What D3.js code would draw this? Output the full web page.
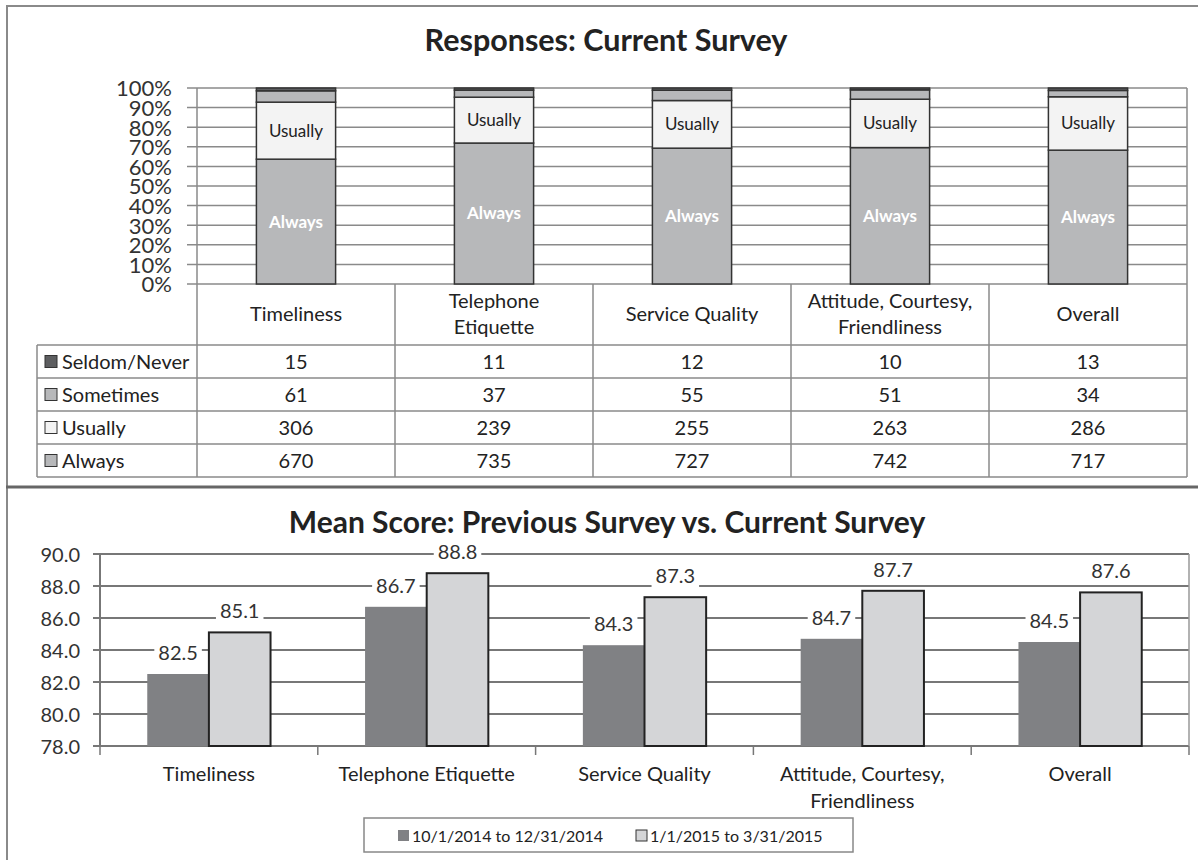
<!DOCTYPE html>
<html>
<head>
    <title>survey charts</title>
    <script type="text/javascript" src="https://cdn.jsdelivr.net/npm/d3@7/dist/d3.min.js"></script>
    <style type="text/css">
        body {
            margin: 0;
            background-color: #fff;
        }
        svg text {
            font-family: Lato, "Open Sans", sans-serif;
            fill: #222;
        }
        .grid line {
            stroke: #8a8a8a;
            stroke-width: 1.5px;
        }
        .frame {
            stroke: #8a8a8a;
            stroke-width: 2px;
        }
    </style>
</head>

<body>
    <svg id="chart" width="1198" height="860"></svg>
</body>

<script type="text/javascript">
    // categories and tick labels
    const categories = ["Timeliness", "Telephone Etiquette", "Service Quality", "Attitude, Courtesy, Friendliness", "Overall"];
    const tableHeaders = [["Timeliness"], ["Telephone", "Etiquette"], ["Service Quality"], ["Attitude, Courtesy,", "Friendliness"], ["Overall"]];
    const axisLabels = [["Timeliness"], ["Telephone Etiquette"], ["Service Quality"], ["Attitude, Courtesy,", "Friendliness"], ["Overall"]];
    const pctTicks = [0, 10, 20, 30, 40, 50, 60, 70, 80, 90, 100];
    const meanTicks = [78, 80, 82, 84, 86, 88, 90];

    // responses, current survey
    const levels = ["Seldom/Never", "Sometimes", "Usually", "Always"];
    const seldomNever = [15, 11, 12, 10, 13];
    const sometimes = [61, 37, 55, 51, 34];
    const usually = [306, 239, 255, 263, 286];
    const always = [670, 735, 727, 742, 717];

    // mean scores
    const seriesNames = ["10/1/2014 to 12/31/2014", "1/1/2015 to 3/31/2015"];
    const previousMean = [82.5, 86.7, 84.3, 84.7, 84.5];
    const currentMean = [85.1, 88.8, 87.3, 87.7, 87.6];

    const levelColor = {"Seldom/Never": "#5d5e60", "Sometimes": "#b7b8ba", "Usually": "#f3f3f3", "Always": "#b7b8ba"};
    const seriesColor = ["#808184", "#d4d5d7"];

    let svg = d3.select("#chart");

    // panel frame
    svg.append("line").attr("class", "frame").attr("x1", 6).attr("x2", 1198).attr("y1", 6).attr("y2", 6);
    svg.append("line").attr("class", "frame").attr("x1", 7).attr("x2", 7).attr("y1", 6).attr("y2", 860);
    svg.append("line").attr("class", "frame").attr("x1", 6).attr("x2", 1198).attr("y1", 487).attr("y2", 487)
       .style("stroke", "#666").style("stroke-width", "3px");

    // ---------- top chart ----------
    const tc = {left: 197, right: 1187, y0: 284, y1: 88};
    let x1 = d3.scaleBand().domain(categories).range([tc.left, tc.right]);
    let y1 = d3.scaleLinear().domain([0, 100]).range([tc.y0, tc.y1]);

    svg.append("text").attr("x", 606).attr("y", 51).attr("text-anchor", "middle")
       .style("font-size", "30.5px").style("font-weight", "bold").text("Responses: Current Survey");

    let grid1 = svg.append("g").attr("class", "grid");
    grid1.selectAll("line").data(pctTicks).enter().append("line")
        .attr("x1", tc.left - 10).attr("x2", tc.right)
        .attr("y1", d => y1(d)).attr("y2", d => y1(d));

    let yAxis1 = svg.append("g").attr("transform", "translate(" + tc.left + ",0)")
        .call(d3.axisLeft(y1).tickValues(pctTicks).tickFormat(d => d + "%").tickSize(10));
    yAxis1.select(".domain").remove();
    yAxis1.selectAll("line").remove();
    yAxis1.selectAll("text").attr("x", -25).attr("dy", "0.36em")
        .style("font-size", "22px").style("font-family", "Lato, sans-serif").style("fill", "#333");

    let rows = categories.map((c, i) => {
        let total = seldomNever[i] + sometimes[i] + usually[i] + always[i];
        return {
            cat: c,
            "Always": always[i] / total * 100,
            "Usually": usually[i] / total * 100,
            "Sometimes": sometimes[i] / total * 100,
            "Seldom/Never": seldomNever[i] / total * 100
        };
    });
    let stack = d3.stack().keys(["Always", "Usually", "Sometimes", "Seldom/Never"])(rows);
    let barW1 = x1.bandwidth() * 0.4;

    let layers = svg.append("g").selectAll("g").data(stack).enter().append("g")
        .attr("fill", d => levelColor[d.key]);
    layers.selectAll("rect").data(d => d).enter().append("rect")
        .attr("x", d => x1(d.data.cat) + (x1.bandwidth() - barW1) / 2)
        .attr("width", barW1)
        .attr("y", d => y1(d[1]))
        .attr("height", d => y1(d[0]) - y1(d[1]))
        .attr("stroke", "#333").attr("stroke-width", 1.5);

    layers.filter(d => d.key == "Always" || d.key == "Usually")
        .selectAll("text").data(d => d.map(v => ({v: v, key: d.key}))).enter().append("text")
        .attr("x", d => x1(d.v.data.cat) + x1.bandwidth() / 2)
        .attr("y", d => (y1(d.v[0]) + y1(d.v[1])) / 2)
        .attr("dy", "0.35em").attr("text-anchor", "middle")
        .style("font-size", "17px")
        .style("font-weight", d => d.key == "Always" ? "bold" : "normal")
        .style("fill", d => d.key == "Always" ? "#fff" : "#222")
        .text(d => d.key);

    // plot sides
    svg.append("line").attr("class", "frame").attr("x1", tc.left).attr("x2", tc.left).attr("y1", tc.y1).attr("y2", 477).style("stroke-width", "1.5px");
    svg.append("line").attr("class", "frame").attr("x1", tc.right).attr("x2", tc.right).attr("y1", tc.y1).attr("y2", 477).style("stroke-width", "1.5px");

    // ---------- data table ----------
    const tbl = {left: 37, headTop: 284, headBottom: 345, rowH: 33};
    let table = svg.append("g").attr("class", "grid");
    let hLines = [tbl.headBottom].concat(levels.map((l, i) => tbl.headBottom + (i + 1) * tbl.rowH));
    table.selectAll(".h").data(hLines).enter().append("line")
        .attr("x1", tbl.left).attr("x2", tc.right)
        .attr("y1", d => d).attr("y2", d => d);
    table.selectAll(".v").data(categories.slice(1)).enter().append("line")
        .attr("x1", d => x1(d)).attr("x2", d => x1(d))
        .attr("y1", tbl.headTop).attr("y2", hLines[hLines.length - 1]);
    table.append("line").attr("x1", tbl.left).attr("x2", tbl.left)
        .attr("y1", tbl.headBottom).attr("y2", hLines[hLines.length - 1]);

    let heads = svg.append("g").selectAll("text").data(tableHeaders).enter().append("text")
        .attr("text-anchor", "middle")
        .attr("x", (d, i) => x1(categories[i]) + x1.bandwidth() / 2)
        .attr("y", d => d.length == 1 ? 321 : 308)
        .style("font-size", "20px");
    heads.selectAll("tspan").data(d => d).enter().append("tspan")
        .attr("x", function() { return this.parentNode.getAttribute("x"); })
        .attr("dy", (d, i) => i == 0 ? 0 : 26)
        .text(d => d);

    let tableValues = [seldomNever, sometimes, usually, always];
    levels.forEach((lvl, r) => {
        let yMid = tbl.headBottom + r * tbl.rowH + tbl.rowH / 2;
        svg.append("rect").attr("x", 45).attr("y", yMid - 6).attr("width", 12).attr("height", 12)
            .attr("fill", levelColor[lvl]).attr("stroke", "#333").attr("stroke-width", 1);
        svg.append("text").attr("x", 62).attr("y", yMid).attr("dy", "0.36em")
            .style("font-size", "20px").text(lvl);
        svg.append("g").selectAll("text").data(tableValues[r]).enter().append("text")
            .attr("x", (d, i) => x1(categories[i]) + x1.bandwidth() / 2)
            .attr("y", yMid).attr("dy", "0.36em").attr("text-anchor", "middle")
            .style("font-size", "20px").text(d => d);
    });

    // ---------- bottom chart ----------
    const bc = {left: 100, right: 1189, y0: 746, y1: 554};
    let x2 = d3.scaleBand().domain(categories).range([bc.left, bc.right]);
    let xs = d3.scaleBand().domain([0, 1]).range([-x2.bandwidth() * 0.283, x2.bandwidth() * 0.283]);
    let y2 = d3.scaleLinear().domain([78, 90]).range([bc.y0, bc.y1]);

    svg.append("text").attr("x", 607).attr("y", 533).attr("text-anchor", "middle")
       .style("font-size", "30px").style("font-weight", "bold").text("Mean Score: Previous Survey vs. Current Survey");

    let grid2 = svg.append("g").attr("class", "grid");
    grid2.selectAll("line").data(meanTicks).enter().append("line")
        .attr("x1", bc.left - 7).attr("x2", bc.right)
        .attr("y1", d => y2(d)).attr("y2", d => y2(d))
        .style("stroke", "#777").style("stroke-width", "2px");

    let yAxis2 = svg.append("g").attr("transform", "translate(" + bc.left + ",0)")
        .call(d3.axisLeft(y2).tickValues(meanTicks).tickFormat(d3.format(".1f")));
    yAxis2.select(".domain").remove();
    yAxis2.selectAll("line").remove();
    yAxis2.selectAll("text").attr("x", -20).attr("dy", "0.36em")
        .style("font-size", "20px").style("font-family", "Lato, sans-serif").style("fill", "#333");

    svg.append("line").attr("x1", bc.left).attr("x2", bc.left).attr("y1", bc.y1).attr("y2", bc.y0)
        .style("stroke", "#777").style("stroke-width", "2px");
    svg.append("line").attr("x1", bc.right).attr("x2", bc.right).attr("y1", bc.y1).attr("y2", bc.y0)
        .style("stroke", "#999").style("stroke-width", "1.5px");

    // category ticks at the bottom axis
    let bounds = categories.map(c => x2(c)).concat([bc.right]);
    svg.append("g").selectAll("line").data(bounds).enter().append("line")
        .attr("x1", d => d).attr("x2", d => d).attr("y1", bc.y0).attr("y2", bc.y0 + 9)
        .style("stroke", "#777").style("stroke-width", "1.5px");

    let meanSeries = [previousMean, currentMean];
    meanSeries.forEach((vals, s) => {
        svg.append("g").selectAll("rect").data(vals).enter().append("rect")
            .attr("x", (d, i) => x2(categories[i]) + x2.bandwidth() / 2 + xs(s))
            .attr("width", xs.bandwidth())
            .attr("y", d => y2(d))
            .attr("height", d => y2(78) - y2(d))
            .attr("fill", seriesColor[s])
            .attr("stroke", s == 1 ? "#222" : "none")
            .attr("stroke-width", 2);
    });

    meanSeries.forEach((vals, s) => {
        let g = svg.append("g").selectAll("g").data(vals).enter().append("g");
        let labels = g.append("text")
            .attr("x", (d, i) => x2(categories[i]) + x2.bandwidth() / 2 + xs(s) + xs.bandwidth() / 2)
            .attr("y", d => y2(d) - 14)
            .attr("text-anchor", "middle")
            .style("font-size", "20px").style("fill", "#333")
            .text(d => d.toFixed(1));
        labels.each(function() {
            let b = this.getBBox();
            d3.select(this.parentNode).insert("rect", "text")
                .attr("x", b.x - 4).attr("y", b.y + 2).attr("width", b.width + 8).attr("height", b.height - 2)
                .attr("fill", "#fff");
        });
    });

    let xl = svg.append("g").selectAll("text").data(axisLabels).enter().append("text")
        .attr("text-anchor", "middle")
        .attr("x", (d, i) => x2(categories[i]) + x2.bandwidth() / 2)
        .attr("y", 781)
        .style("font-size", "20px");
    xl.selectAll("tspan").data(d => d).enter().append("tspan")
        .attr("x", function() { return this.parentNode.getAttribute("x"); })
        .attr("dy", (d, i) => i == 0 ? 0 : 27)
        .text(d => d);

    // legend
    svg.append("rect").attr("x", 364).attr("y", 818).attr("width", 489).attr("height", 34)
        .attr("fill", "#fff").attr("stroke", "#888").attr("stroke-width", 1.5);
    let legendX = [398, 636];
    seriesNames.forEach((name, s) => {
        svg.append("rect").attr("x", legendX[s]).attr("y", 830).attr("width", 11).attr("height", 11)
            .attr("fill", seriesColor[s]).attr("stroke", s == 1 ? "#333" : "none").attr("stroke-width", 1);
        svg.append("text").attr("x", legendX[s] + 14).attr("y", 836).attr("dy", "0.36em")
            .style("font-size", "16px").text(name);
    });
</script>

</html>
